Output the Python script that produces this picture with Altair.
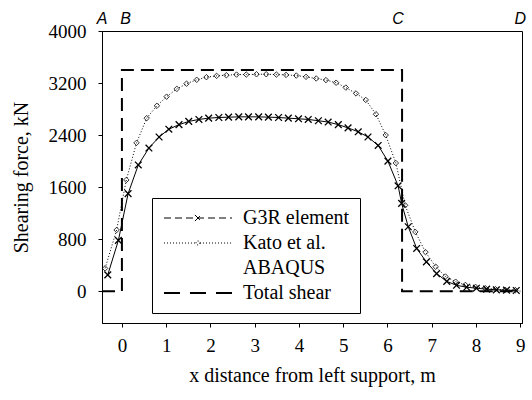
import altair as alt
import pandas as pd

# ---- data ----
g3r_x = [-0.32, -0.08, 0.14, 0.37, 0.61, 0.84, 1.06, 1.29, 1.51, 1.74, 1.96, 2.19, 2.41, 2.64,
         2.86, 3.09, 3.31, 3.54, 3.76, 3.99, 4.21, 4.44, 4.66, 4.89, 5.11, 5.34, 5.56, 5.79,
         6.01, 6.24, 6.32, 6.47, 6.66, 6.88, 7.11, 7.34, 7.56, 7.79, 8.01, 8.24, 8.46, 8.69, 8.91]
g3r_y = [250, 780, 1500, 1940, 2200, 2370, 2490, 2560, 2610, 2640, 2660, 2670, 2675, 2680,
         2680, 2680, 2675, 2670, 2660, 2650, 2640, 2620, 2600, 2560, 2510, 2450, 2370, 2240,
         2000, 1620, 1350, 990, 656, 450, 270, 150, 90, 60, 45, 30, 20, 15, 10]

kato_x = [-0.38, -0.12, 0.10, 0.33, 0.56, 0.79, 1.01, 1.24, 1.46, 1.69, 1.91, 2.14, 2.36, 2.59,
          2.81, 3.04, 3.26, 3.49, 3.71, 3.94, 4.16, 4.39, 4.61, 4.84, 5.06, 5.29, 5.51, 5.74,
          5.96, 6.19, 6.40, 6.63, 6.86, 7.09, 7.31, 7.54, 7.76, 7.99, 8.21, 8.44, 8.66, 8.89]
kato_y = [350, 940, 1710, 2280, 2660, 2850, 2990, 3110, 3190, 3250, 3290, 3310, 3320, 3330,
          3330, 3335, 3335, 3330, 3325, 3315, 3295, 3270, 3245, 3205, 3130, 3040, 2940, 2720,
          2400, 1970, 1320, 910, 600, 375, 225, 145, 95, 65, 45, 30, 20, 15]

total_x = [-0.45, 0.0, 0.0, 6.33, 6.33, 9.0]
total_y = [0, 0, 3400, 3400, 0, 0]

support_labels = ["A", "B", "C", "D"]
support_x = [-0.45, 0.08, 6.24, 9.0]
support_y = [4000, 4000, 4000, 4000]

series_names = ["G3R element", "Kato et al.", "ABAQUS", "Total shear"]
x_ticks = [0, 1, 2, 3, 4, 5, 6, 7, 8, 9]
y_ticks = [0, 800, 1600, 2400, 3200, 4000]

SERIF = "Liberation Serif"

xs = alt.Scale(domain=[-0.45, 9.04], nice=False, zero=False)
ys = alt.Scale(domain=[-490, 4000], nice=False, zero=False)

xenc = alt.X("x:Q", scale=xs, title="x distance from left support, m",
             axis=alt.Axis(values=x_ticks, format="d"))
yenc = alt.Y("y:Q", scale=ys, title="Shearing force, kN",
             axis=alt.Axis(values=y_ticks, format="d"))

g3r = pd.DataFrame({"x": g3r_x, "y": g3r_y})
kato = pd.DataFrame({"x": kato_x, "y": kato_y})
total = pd.DataFrame({"x": total_x, "y": total_y, "i": list(range(len(total_x)))})
supp = pd.DataFrame({"x": support_x, "y": support_y, "t": support_labels})
leg = pd.DataFrame({"series": series_names, "x": [None] * 4, "y": [None] * 4})

XPATH = "M-1,-1L1,1M-1,1L1,-1"

total_line = alt.Chart(total).mark_line(color="black", strokeWidth=2, strokeDash=[13, 7]).encode(
    x=xenc, y=yenc, order=alt.Order("i:Q"))

g3r_line = alt.Chart(g3r).mark_line(color="black", strokeWidth=1).encode(x=xenc, y=yenc)
g3r_pts = alt.Chart(g3r).mark_point(shape=XPATH, size=45, filled=False, color="black",
                                    strokeWidth=1.3, opacity=1).encode(x=xenc, y=yenc)

kato_line = alt.Chart(kato).mark_line(color="black", strokeWidth=1, strokeDash=[1, 2]).encode(x=xenc, y=yenc)
kato_pts = alt.Chart(kato).mark_point(shape="diamond", size=30, filled=False, color="black",
                                      strokeWidth=0.8, opacity=1).encode(x=xenc, y=yenc)

labels = alt.Chart(supp).mark_text(font="Liberation Sans", fontStyle="italic", fontSize=16,
                                   baseline="alphabetic", dy=-7, color="black").encode(
    x=xenc, y=yenc, text="t:N")

leg_shapes = [
    "M-5,0H5M-0.45,-0.45L0.45,0.45M-0.45,0.45L0.45,-0.45",
    "M-5,0H-0.3M0.3,0H5M0.3,0A0.3,0.3 0 1 1 -0.3,0A0.3,0.3 0 1 1 0.3,0",
    "M-5,0H5",
    "M-5,0H5",
]
legend_layer = alt.Chart(leg).mark_point(filled=False, opacity=1).encode(
    x=xenc, y=yenc,
    shape=alt.Shape("series:N", scale=alt.Scale(domain=series_names, range=leg_shapes),
                    legend=alt.Legend(title=None, orient="none", legendX=50, legendY=167,
                                      symbolSize=185, symbolOffset=26, labelOffset=35,
                                      labelFont=SERIF, labelFontSize=20, labelColor="black",
                                      strokeColor="black", fillColor="white", padding=10,
                                      rowPadding=5, labelLimit=300,
                                      symbolFillColor="transparent")),
    color=alt.Color("series:N", scale=alt.Scale(domain=series_names,
                                                range=["black", "black", "transparent", "black"])),
    strokeDash=alt.StrokeDash("series:N", scale=alt.Scale(domain=series_names,
                                                          range=[[7, 4], [1, 2], [1, 0], [16, 10]])),
    strokeWidth=alt.StrokeWidth("series:N", scale=alt.Scale(type="ordinal", domain=series_names,
                                                            range=[1, 1, 1, 2])),
)

chart = alt.layer(total_line, kato_line, kato_pts, g3r_line, g3r_pts, labels, legend_layer).properties(
    width=420, height=292,
    autosize=alt.AutoSizeParams(type="none"),
    padding={"left": 102, "top": 31, "right": 10, "bottom": 77},
    background="white",
).configure_view(stroke="black", strokeWidth=1).configure_axis(
    grid=False, domainColor="black", tickColor="black", tickSize=4,
    labelFont=SERIF, labelFontSize=19, labelColor="black",
    titleFont=SERIF, titleFontSize=20, titleColor="black", titleFontWeight="normal",
).configure_axisX(labelPadding=9, titlePadding=10).configure_axisY(labelPadding=12, titlePadding=17)

chart.save("out.html", embed_options={"renderer": "svg", "actions": False})
